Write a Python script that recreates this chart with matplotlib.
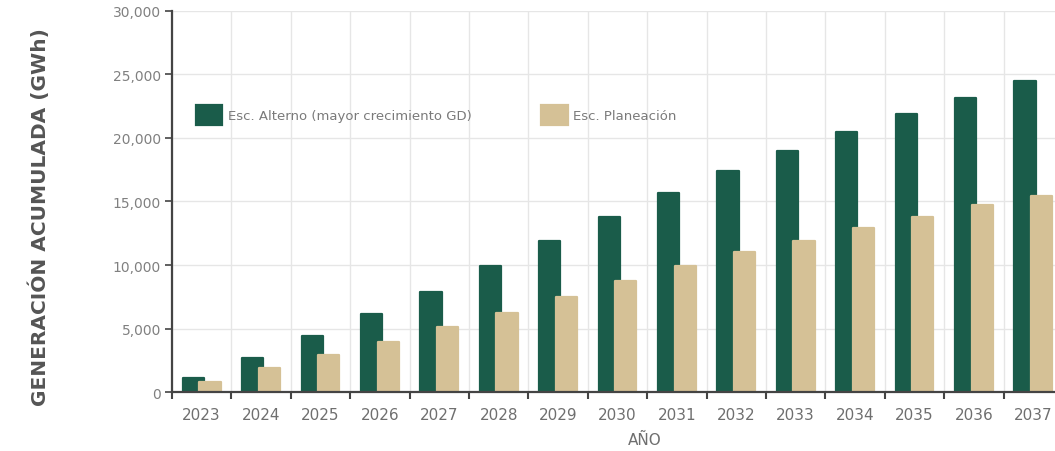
import numpy as np
import matplotlib.pyplot as plt
from matplotlib.ticker import FuncFormatter

anios = ['2023', '2024', '2025', '2026', '2027', '2028', '2029', '2030',
         '2031', '2032', '2033', '2034', '2035', '2036', '2037']
esc_alterno = [1100, 2700, 4400, 6150, 7900, 9900, 11900, 13750,
               15700, 17400, 19000, 20450, 21900, 23150, 24450]
esc_planeacion = [790, 1900, 2950, 3950, 5100, 6250, 7450, 8750,
                  9900, 11000, 11900, 12950, 13750, 14700, 15400]

verde = '#1a5c4a'
beige = '#d5c196'
gris = '#6f6f6f'

fig = plt.figure(figsize=(10.55, 4.52), dpi=100)
ax = fig.add_axes([0.163, 0.1305, 0.8446, 0.843])

x = np.arange(len(anios))
ancho = 0.355
# borde del mismo color con joinstyle round para redondear las esquinas
ax.bar(x - 0.14, esc_alterno, ancho, color=verde, edgecolor=verde, linewidth=1.6,
       joinstyle='round', label='Esc. Alterno (mayor crecimiento GD)', zorder=3)
ax.bar(x + 0.14, esc_planeacion, ancho, color=beige, edgecolor=beige, linewidth=1.6,
       joinstyle='round', label='Esc. Planeación', zorder=4)

ax.set_xlim(-0.5, len(anios) - 0.5)
ax.set_ylim(0, 30000)
ax.set_yticks(np.arange(0, 30001, 5000))
ax.yaxis.set_major_formatter(FuncFormatter(lambda v, p: f'{int(v):,}'))

ax.set_xticks(x)
ax.set_xticklabels(anios)
ax.set_xticks(np.arange(-0.5, len(anios), 1), minor=True)
ax.tick_params(axis='x', which='major', length=0, pad=11, labelsize=11, labelcolor=gris)
ax.tick_params(axis='x', which='minor', length=5, width=1.5, color='#444444')
ax.tick_params(axis='y', length=5, width=1.2, color='#444444', pad=3,
               labelsize=10, labelcolor='#808080')

ax.grid(axis='y', which='major', color='#e6e6e6', linewidth=1, zorder=0)
ax.grid(axis='x', which='minor', color='#e6e6e6', linewidth=1, zorder=0)
ax.set_axisbelow(True)

for s in ['top', 'right']:
    ax.spines[s].set_visible(False)
for s in ['left', 'bottom']:
    ax.spines[s].set_color('#444444')
    ax.spines[s].set_linewidth(1.6)
    ax.spines[s].set_zorder(5)

ax.set_ylabel('GENERACIÓN ACUMULADA (GWh)', fontsize=14.5, fontweight='bold', color='#555555')
ax.yaxis.set_label_coords(-0.137, 0.462)
ax.set_xlabel('AÑO', fontsize=11, color=gris)
ax.xaxis.set_label_coords(0.531, -0.105)

ax.legend(loc='center left', bbox_to_anchor=(0.027, 0.727), ncol=2, frameon=False,
          fontsize=9.5, labelcolor='#7a7a7a', handlelength=2.0, handleheight=2.0,
          handletextpad=0.4, columnspacing=5.3, borderpad=0, borderaxespad=0)

fig.savefig('out.png', dpi=100)
